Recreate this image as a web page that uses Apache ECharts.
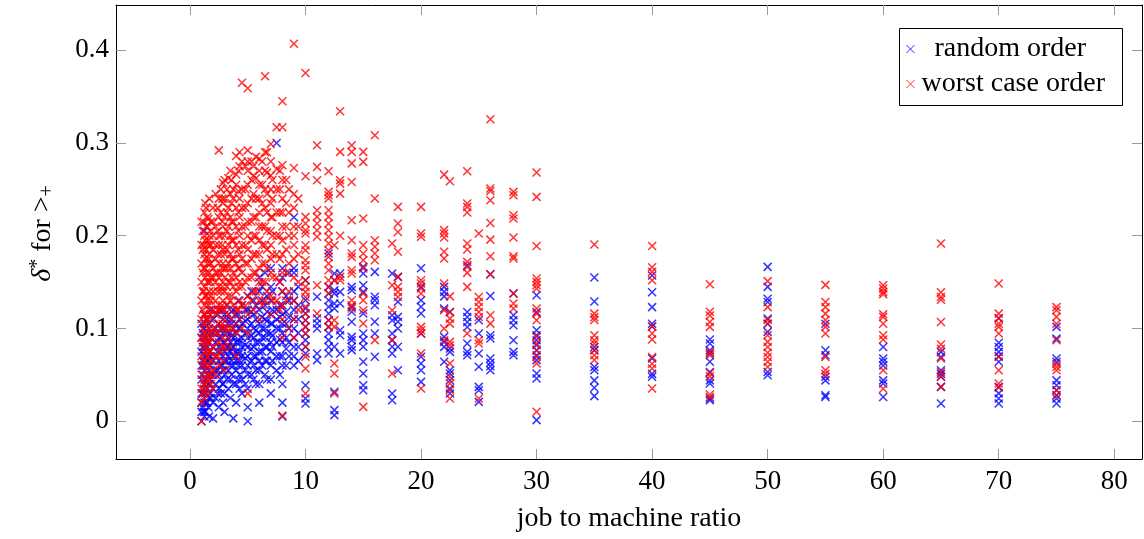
<!DOCTYPE html>
<html>
<head>
<meta charset="utf-8">
<script src="https://cdn.jsdelivr.net/npm/echarts@6/dist/echarts.min.js"></script>
<style>
  html, body { margin: 0; padding: 0; background: #fff; }
  #chart { width: 1144px; height: 539px; }
</style>
</head>
<body>
<div id="chart"></div>
<script>
// Each entry: [job to machine ratio, [delta* values measured at that ratio]]
const randomLow = [
  [1.0, [0, 0.01, 0.02, 0.03, 0.045, 0.06, 0.075, 0.09, 0.105]],
  [1.11, [0.015, 0.03, 0.05, 0.065, 0.08, 0.095]],
  [1.25, [0.005, 0.02, 0.04, 0.055, 0.07, 0.085, 0.1, 0.115, 0.205]],
  [1.33, [0.01, 0.03, 0.045, 0.06, 0.075, 0.09, 0.105]],
  [1.5, [0.02, 0.035, 0.05, 0.065, 0.08, 0.095, 0.11]],
  [1.67, [0.005, 0.025, 0.04, 0.055, 0.07, 0.085, 0.1]],
  [1.75, [0.03, 0.045, 0.06, 0.075, 0.09, 0.115]],
  [2.0, [0.003, 0.02, 0.035, 0.05, 0.065, 0.08, 0.095, 0.11]],
  [2.22, [0.025, 0.04, 0.055, 0.07, 0.085, 0.1]],
  [2.5, [0.015, 0.035, 0.05, 0.065, 0.08, 0.09, 0.105, 0.12]],
  [2.67, [0.03, 0.045, 0.06, 0.075, 0.09, 0.1]],
  [2.86, [0.02, 0.04, 0.055, 0.07, 0.085, 0.095, 0.11]],
  [3.0, [0.01, 0.03, 0.05, 0.065, 0.075, 0.085, 0.1, 0.115]],
  [3.33, [0.035, 0.055, 0.07, 0.08, 0.09, 0.105]],
  [3.5, [0.025, 0.045, 0.06, 0.075, 0.085, 0.095, 0.11]],
  [3.75, [0.003, 0.04, 0.06, 0.07, 0.08, 0.09, 0.1, 0.12]],
  [4.0, [0.02, 0.04, 0.055, 0.065, 0.075, 0.085, 0.095, 0.105, 0.115]],
  [4.29, [0.035, 0.05, 0.065, 0.075, 0.085, 0.1, 0.11]],
  [4.5, [0.03, 0.045, 0.06, 0.07, 0.08, 0.09, 0.105, 0.125]],
  [5.0, [0, 0.015, 0.035, 0.05, 0.06, 0.07, 0.08, 0.09, 0.1, 0.11, 0.12, 0.135]],
  [5.5, [0.045, 0.06, 0.07, 0.08, 0.09, 0.1, 0.115, 0.13]],
  [6.0, [0.02, 0.04, 0.055, 0.065, 0.075, 0.085, 0.095, 0.105, 0.12, 0.14, 0.155]],
  [6.5, [0.05, 0.065, 0.08, 0.09, 0.1, 0.11, 0.125, 0.16]],
  [7.0, [0.03, 0.045, 0.06, 0.075, 0.085, 0.095, 0.105, 0.115, 0.13, 0.145, 0.165]],
  [7.5, [0.055, 0.07, 0.085, 0.1, 0.11, 0.12, 0.3]],
  [8.0, [0.005, 0.02, 0.04, 0.06, 0.07, 0.085, 0.095, 0.105, 0.115, 0.125, 0.14, 0.155, 0.165]],
  [9.0, [0.06, 0.07, 0.08, 0.09, 0.1, 0.11, 0.12, 0.13, 0.14, 0.16, 0.165, 0.22]]
];

// further small ratios (fractional job counts per machine)
const randomDense = [
  [1.2, [0.01, 0.035, 0.06, 0.08, 0.1]],
  [1.4, [0.02, 0.045, 0.07, 0.09, 0.11]],
  [1.6, [0.015, 0.04, 0.065, 0.085, 0.105]],
  [1.8, [0.025, 0.05, 0.07, 0.095, 0.12]],
  [2.4, [0.03, 0.055, 0.075, 0.095, 0.115]],
  [2.8, [0.04, 0.06, 0.08, 0.1, 0.12]],
  [3.2, [0.045, 0.065, 0.08, 0.095, 0.11, 0.125]],
  [3.6, [0.05, 0.065, 0.078, 0.092, 0.105, 0.118]],
  [4.2, [0.045, 0.06, 0.072, 0.088, 0.1, 0.115, 0.13]],
  [4.8, [0.04, 0.055, 0.068, 0.082, 0.095, 0.108, 0.12]],
  [5.33, [0.05, 0.065, 0.078, 0.092, 0.105, 0.118, 0.14]],
  [5.71, [0.04, 0.055, 0.07, 0.085, 0.098, 0.11, 0.125]],
  [6.25, [0.06, 0.075, 0.09, 0.1, 0.112, 0.13, 0.145]],
  [6.67, [0.045, 0.065, 0.08, 0.095, 0.108, 0.118, 0.135]],
  [7.14, [0.065, 0.08, 0.092, 0.105, 0.12, 0.14]],
  [7.78, [0.05, 0.07, 0.088, 0.1, 0.112, 0.125, 0.15]],
  [8.33, [0.06, 0.078, 0.09, 0.105, 0.118, 0.135]],
  [8.57, [0.07, 0.085, 0.1, 0.112, 0.13, 0.16]],
  [9.38, [0.065, 0.08, 0.095, 0.11, 0.125, 0.145]]
];

const randomMid = [
  [10, [0.019, 0.0244, 0.0388, 0.073, 0.0802, 0.0874, 0.0945, 0.1017, 0.1089, 0.1161, 0.1215, 0.1305, 0.152]],
  [11, [0.0658, 0.073, 0.0999, 0.1053, 0.1107, 0.1341]],
  [12, [0.073, 0.0802, 0.0874, 0.0945, 0.1017, 0.1089, 0.1161, 0.1233, 0.1305, 0.1376, 0.1448, 0.1808]],
  [12.5, [0.0065, 0.0119, 0.0317, 0.0802, 0.1215, 0.1269, 0.1376, 0.1412, 0.152, 0.1592]],
  [13, [0.073, 0.0927, 0.0981, 0.1269, 0.1394, 0.1592]],
  [14, [0.0766, 0.0802, 0.0874, 0.0909, 0.1072, 0.118, 0.1233, 0.1412, 0.1448]],
  [15, [0.0334, 0.0388, 0.0514, 0.064, 0.0802, 0.0874, 0.0945, 0.1161, 0.1394, 0.1466, 0.1592, 0.1664]],
  [16, [0.0694, 0.0945, 0.1072, 0.1251, 0.1305, 0.1341, 0.161]],
  [17.5, [0.0226, 0.0299, 0.073, 0.0802, 0.0874, 0.0945, 0.1089, 0.1143, 0.1592]],
  [18, [0.055, 0.0802, 0.0999, 0.1072, 0.1125, 0.1287, 0.1556]],
  [20, [0.0424, 0.055, 0.0622, 0.0694, 0.0945, 0.1161, 0.1233, 0.1305, 0.1448, 0.165]],
  [22, [0.064, 0.0801, 0.0855, 0.0909, 0.1214, 0.1346, 0.1394, 0.1448]],
  [22.5, [0.0298, 0.0352, 0.0442, 0.0514, 0.055, 0.0747, 0.0783, 0.1178]],
  [24, [0.0711, 0.0747, 0.0837, 0.1016, 0.107, 0.1124, 0.1178, 0.1682]],
  [25, [0.0208, 0.0334, 0.037, 0.0586, 0.0729, 0.0945, 0.1088]],
  [26, [0.055, 0.0593, 0.0629, 0.0676, 0.0891, 0.0927, 0.135, 0.1585]],
  [28, [0.0711, 0.0747, 0.0873, 0.1034, 0.1088, 0.1142, 0.1376]],
  [30, [0.0011, 0.046, 0.0514, 0.0658, 0.0711, 0.0765, 0.0819, 0.0873, 0.0927, 0.0981, 0.1178, 0.1358]]
];

const randomHigh = [
  [35, [0.027, 0.036, 0.044, 0.055, 0.0585, 0.0765, 0.08, 0.129, 0.155]],
  [40, [0.048, 0.051, 0.0675, 0.102, 0.105, 0.123, 0.139, 0.157]],
  [45, [0.0226, 0.0245, 0.0406, 0.044, 0.053, 0.064, 0.073, 0.0765, 0.0838, 0.088]],
  [50, [0.0496, 0.053, 0.0963, 0.105, 0.1107, 0.1286, 0.132, 0.1448, 0.1664]],
  [55, [0.026, 0.028, 0.044, 0.048, 0.071, 0.0765, 0.105]],
  [60, [0.026, 0.0406, 0.044, 0.06, 0.064, 0.0675, 0.08]],
  [65, [0.019, 0.037, 0.048, 0.051, 0.055, 0.0693, 0.0747]],
  [70, [0.019, 0.0245, 0.03, 0.037, 0.064, 0.07, 0.0747, 0.08, 0.0845, 0.111]],
  [75, [0.019, 0.0245, 0.028, 0.0334, 0.0388, 0.044, 0.064, 0.0675, 0.089, 0.1017]]
];

const worstLow = [
  [1.0, [0, 0.02, 0.035, 0.05, 0.07, 0.09, 0.11, 0.13, 0.15, 0.17, 0.19, 0.215]],
  [1.11, [0.03, 0.06, 0.085, 0.1, 0.12, 0.14, 0.16, 0.185, 0.205]],
  [1.25, [0.025, 0.045, 0.065, 0.08, 0.105, 0.125, 0.145, 0.165, 0.18, 0.2, 0.225]],
  [1.33, [0.04, 0.075, 0.095, 0.115, 0.135, 0.155, 0.175, 0.195, 0.235]],
  [1.5, [0.03, 0.05, 0.07, 0.09, 0.11, 0.13, 0.15, 0.17, 0.19, 0.21, 0.22]],
  [1.67, [0.045, 0.06, 0.085, 0.1, 0.12, 0.14, 0.16, 0.18, 0.2, 0.24]],
  [1.75, [0.05, 0.075, 0.095, 0.115, 0.135, 0.155, 0.17, 0.19, 0.205]],
  [2.0, [0.035, 0.055, 0.08, 0.1, 0.12, 0.14, 0.155, 0.165, 0.185, 0.2, 0.215, 0.23]],
  [2.22, [0.05, 0.07, 0.095, 0.115, 0.13, 0.15, 0.16, 0.175, 0.19, 0.21, 0.245]],
  [2.5, [0.06, 0.085, 0.105, 0.125, 0.145, 0.155, 0.17, 0.19, 0.2, 0.22, 0.24, 0.292]],
  [2.67, [0.075, 0.1, 0.12, 0.14, 0.16, 0.18, 0.2, 0.225, 0.25]],
  [2.86, [0.065, 0.09, 0.11, 0.13, 0.15, 0.17, 0.185, 0.21, 0.235, 0.257]],
  [3.0, [0.055, 0.08, 0.1, 0.12, 0.14, 0.155, 0.165, 0.18, 0.2, 0.22, 0.24, 0.26]],
  [3.33, [0.09, 0.115, 0.135, 0.15, 0.17, 0.19, 0.21, 0.23, 0.262]],
  [3.5, [0.08, 0.1, 0.13, 0.15, 0.165, 0.18, 0.2, 0.22, 0.245, 0.27]],
  [3.75, [0.1, 0.125, 0.145, 0.16, 0.175, 0.195, 0.215, 0.24, 0.25]],
  [4.0, [0.07, 0.095, 0.12, 0.14, 0.155, 0.17, 0.19, 0.21, 0.23, 0.255, 0.266, 0.286]],
  [4.29, [0.11, 0.13, 0.15, 0.165, 0.18, 0.2, 0.22, 0.24, 0.275, 0.29]],
  [4.5, [0.1, 0.125, 0.145, 0.16, 0.175, 0.19, 0.21, 0.23, 0.25, 0.28, 0.365]],
  [5.0, [0.03, 0.095, 0.115, 0.135, 0.155, 0.17, 0.185, 0.2, 0.215, 0.235, 0.255, 0.27, 0.28, 0.292, 0.359]],
  [5.5, [0.12, 0.14, 0.16, 0.18, 0.2, 0.22, 0.245, 0.265, 0.275]],
  [6.0, [0.11, 0.13, 0.15, 0.165, 0.18, 0.195, 0.21, 0.225, 0.24, 0.255, 0.27, 0.283]],
  [6.5, [0.13, 0.15, 0.17, 0.19, 0.21, 0.23, 0.25, 0.27, 0.29, 0.372]],
  [7.0, [0.115, 0.135, 0.16, 0.175, 0.19, 0.205, 0.22, 0.235, 0.25, 0.265, 0.28, 0.299]],
  [7.5, [0.13, 0.155, 0.18, 0.2, 0.225, 0.25, 0.272, 0.317]],
  [8.0, [0.006, 0.09, 0.11, 0.125, 0.14, 0.16, 0.18, 0.195, 0.21, 0.225, 0.24, 0.26, 0.276, 0.317, 0.345]],
  [9.0, [0.09, 0.11, 0.13, 0.155, 0.175, 0.19, 0.2, 0.21, 0.23, 0.245, 0.273, 0.407]]
];

const worstDense = [
  [1.2, [0.04, 0.065, 0.09, 0.115, 0.14, 0.165, 0.19, 0.215]],
  [1.4, [0.035, 0.06, 0.085, 0.11, 0.135, 0.16, 0.185, 0.21, 0.23]],
  [1.6, [0.05, 0.075, 0.1, 0.125, 0.15, 0.175, 0.195, 0.218]],
  [1.8, [0.04, 0.065, 0.09, 0.11, 0.13, 0.15, 0.17, 0.19, 0.215]],
  [2.4, [0.07, 0.095, 0.12, 0.14, 0.16, 0.18, 0.205, 0.23]],
  [2.8, [0.08, 0.105, 0.125, 0.145, 0.165, 0.19, 0.215, 0.24]],
  [3.2, [0.1, 0.125, 0.145, 0.165, 0.185, 0.205, 0.225, 0.25]],
  [3.6, [0.11, 0.135, 0.155, 0.175, 0.195, 0.215, 0.235, 0.26]],
  [4.2, [0.12, 0.145, 0.165, 0.185, 0.205, 0.225, 0.248, 0.27]],
  [4.8, [0.125, 0.15, 0.17, 0.19, 0.21, 0.23, 0.25, 0.275]],
  [5.33, [0.13, 0.155, 0.175, 0.195, 0.215, 0.24, 0.26, 0.28]],
  [5.71, [0.14, 0.16, 0.18, 0.2, 0.22, 0.24, 0.262, 0.285]],
  [6.25, [0.125, 0.15, 0.17, 0.19, 0.21, 0.235, 0.255, 0.28]],
  [6.67, [0.14, 0.165, 0.185, 0.205, 0.225, 0.245, 0.268, 0.29]],
  [7.14, [0.13, 0.155, 0.18, 0.2, 0.22, 0.24, 0.26]],
  [7.78, [0.12, 0.15, 0.175, 0.2, 0.225, 0.25, 0.27]],
  [8.33, [0.13, 0.16, 0.185, 0.21, 0.235, 0.26]],
  [8.57, [0.1, 0.14, 0.17, 0.2, 0.225, 0.25]],
  [9.38, [0.12, 0.15, 0.18, 0.21, 0.24]]
];

const worstMid = [
  [10, [0.0299, 0.0568, 0.0694, 0.0802, 0.0945, 0.1017, 0.1089, 0.1161, 0.1233, 0.134, 0.1394, 0.1448, 0.152, 0.1628, 0.1682, 0.1736, 0.1844, 0.1898, 0.2023, 0.2059, 0.2131, 0.2203, 0.2641, 0.3755]],
  [11, [0.1161, 0.1466, 0.1988, 0.2059, 0.2131, 0.2203, 0.2275, 0.2598, 0.2742, 0.2976]],
  [12, [0.1017, 0.1089, 0.1376, 0.1448, 0.152, 0.1628, 0.17, 0.1772, 0.1844, 0.1916, 0.1988, 0.2059, 0.2131, 0.2203, 0.2275, 0.2401, 0.2437, 0.2473, 0.2695]],
  [12.5, [0.0299, 0.0514, 0.0622, 0.1017, 0.1089, 0.152, 0.1898]],
  [13, [0.152, 0.1556, 0.1999, 0.2454, 0.2562, 0.2598, 0.2904, 0.3342]],
  [14, [0.1215, 0.1251, 0.1305, 0.1592, 0.1628, 0.1772, 0.1808, 0.1952, 0.2167, 0.258, 0.278, 0.2904, 0.2976]],
  [15, [0.0154, 0.1053, 0.1197, 0.1305, 0.1376, 0.1646, 0.1736, 0.1808, 0.1898, 0.2185, 0.2796, 0.2904]],
  [16, [0.0874, 0.1736, 0.1808, 0.188, 0.1952, 0.2401, 0.3083]],
  [17.5, [0.0514, 0.0874, 0.1197, 0.1466, 0.1916]],
  [18, [0.134, 0.1394, 0.1448, 0.1556, 0.1826, 0.2041, 0.2131, 0.2311]],
  [20, [0.0352, 0.073, 0.0945, 0.0981, 0.1017, 0.1376, 0.143, 0.1484, 0.152, 0.1988, 0.2023, 0.2311]],
  [22, [0.0873, 0.0999, 0.1196, 0.1484, 0.1754, 0.1826, 0.198, 0.2023, 0.206, 0.2659]],
  [22.5, [0.0244, 0.0334, 0.0406, 0.0478, 0.0622, 0.0819, 0.0855, 0.1052, 0.1106, 0.1178, 0.1346, 0.2588]],
  [24, [0.0945, 0.1448, 0.1599, 0.1664, 0.1718, 0.1852, 0.1916, 0.225, 0.2311, 0.2347, 0.2695]],
  [25, [0.0244, 0.0837, 0.0873, 0.1124, 0.1178, 0.1232, 0.1286, 0.1339, 0.2023]],
  [26, [0.1052, 0.1142, 0.1585, 0.1779, 0.1958, 0.2138, 0.2383, 0.2483, 0.2509, 0.3255]],
  [28, [0.1214, 0.1268, 0.1376, 0.1754, 0.1779, 0.198, 0.2185, 0.2221, 0.2437, 0.2473]],
  [30, [0.0101, 0.0622, 0.0694, 0.0765, 0.0837, 0.0909, 0.1088, 0.116, 0.1214, 0.143, 0.1466, 0.1502, 0.1538, 0.189, 0.2419, 0.2681]]
];

const worstHigh = [
  [35, [0.066, 0.071, 0.0765, 0.0838, 0.0873, 0.0927, 0.109, 0.112, 0.116, 0.1905]],
  [40, [0.0352, 0.0568, 0.062, 0.0693, 0.088, 0.0945, 0.102, 0.152, 0.161, 0.166, 0.189]],
  [45, [0.026, 0.0287, 0.0485, 0.052, 0.071, 0.0747, 0.1017, 0.107, 0.114, 0.118, 0.1477]],
  [50, [0.0585, 0.064, 0.0693, 0.0737, 0.08, 0.0855, 0.0927, 0.105, 0.109, 0.123, 0.151]],
  [55, [0.051, 0.055, 0.0693, 0.0945, 0.1017, 0.109, 0.116, 0.123, 0.1286, 0.147]],
  [60, [0.035, 0.055, 0.088, 0.0927, 0.105, 0.1125, 0.1154, 0.137, 0.1394, 0.143, 0.1466]],
  [65, [0.037, 0.048, 0.053, 0.0675, 0.078, 0.0827, 0.107, 0.131, 0.134, 0.139, 0.1916]],
  [70, [0.0363, 0.0406, 0.055, 0.0693, 0.0945, 0.1017, 0.105, 0.111, 0.116, 0.1484]],
  [75, [0.028, 0.0334, 0.055, 0.0585, 0.062, 0.0873, 0.105, 0.1125, 0.1197, 0.123]]
];

const xTicks = [0, 10, 20, 30, 40, 50, 60, 70, 80];
const yTicks = [0, 0.1, 0.2, 0.3, 0.4];
const seriesNames = ['random order', 'worst case order'];

const FONT = '"Liberation Serif", "DejaVu Serif", serif';
const CROSS = 'path://M0,0L10,10M10,0L0,10';

const toPoints = cols => cols.flatMap(([x, ys]) => ys.map(y => [x, y]));
const randomPoints = toPoints([...randomLow, ...randomDense, ...randomMid, ...randomHigh]);
const worstPoints = toPoints([...worstLow, ...worstDense, ...worstMid, ...worstHigh]);

const X_MIN = -6.4, X_MAX = 82.4;
const Y_MIN = -0.0408, Y_MAX = 0.4488;

const frameLine = { show: true, onZero: false, lineStyle: { color: '#000', width: 1 } };
const tickStyle = { color: '#9a9a9a', width: 1 };

function xAxisDef(pos, labelled) {
  return {
    type: 'value', position: pos, min: X_MIN, max: X_MAX,
    axisLine: frameLine,
    axisTick: { show: true, inside: true, length: 10, customValues: xTicks, lineStyle: tickStyle },
    axisLabel: { show: labelled, customValues: xTicks, margin: 9, color: '#000', fontFamily: FONT, fontSize: 27 },
    splitLine: { show: false },
    name: labelled ? 'job to machine ratio' : '',
    nameLocation: 'middle', nameGap: 46,
    nameTextStyle: { color: '#000', fontFamily: FONT, fontSize: 28 }
  };
}

function yAxisDef(pos, labelled) {
  return {
    type: 'value', position: pos, min: Y_MIN, max: Y_MAX,
    axisLine: frameLine,
    axisTick: { show: true, inside: true, length: 10, customValues: yTicks, lineStyle: tickStyle },
    axisLabel: { show: labelled, customValues: yTicks, margin: 7, color: '#000', fontFamily: FONT, fontSize: 27 },
    splitLine: { show: false },
    name: labelled ? '{d|δ}{s|*} for >{b|+}' : '',
    nameLocation: 'middle', nameGap: 58, nameRotate: 90,
    nameTextStyle: {
      color: '#000', fontFamily: FONT, fontSize: 28, lineHeight: 30,
      padding: [0, 3, 0, 0],
      rich: {
        d: { fontFamily: FONT, fontSize: 28, fontStyle: 'italic', color: '#000', lineHeight: 30 },
        s: { fontFamily: FONT, fontSize: 20, color: '#000', lineHeight: 20, verticalAlign: 'top' },
        b: { fontFamily: FONT, fontSize: 20, color: '#000', lineHeight: 20, verticalAlign: 'bottom' }
      }
    }
  };
}

function scatter(name, data, color) {
  return {
    type: 'scatter', name, data,
    symbol: CROSS, symbolSize: 8,
    itemStyle: { color: 'transparent', borderColor: color, borderWidth: 1.5 },
    emphasis: { disabled: true },
    animation: false
  };
}

function legendDef(name, top, textPad) {
  return {
    data: [name], left: 906, top, padding: 0,
    itemWidth: 8, itemHeight: 8, itemGap: 0,
    selectedMode: false,
    itemStyle: { borderWidth: 1 },
    textStyle: { color: '#000', fontFamily: FONT, fontSize: 28, lineHeight: 30, padding: [0, 0, 0, textPad] }
  };
}

const chart = echarts.init(document.getElementById('chart'), null, { renderer: 'canvas' });
chart.setOption({
  backgroundColor: '#fff',
  animation: false,
  grid: { left: 116, right: 2, top: 5, bottom: 80, containLabel: false },
  xAxis: [xAxisDef('bottom', true), xAxisDef('top', false)],
  yAxis: [yAxisDef('left', true), yAxisDef('right', false)],
  legend: [legendDef(seriesNames[0], 34, 15), legendDef(seriesNames[1], 69, 2)],
  graphic: [{
    type: 'rect', left: 899, top: 28, z: 3,
    shape: { width: 223, height: 77 },
    style: { fill: '#fff', stroke: '#000', lineWidth: 1 }
  }],
  series: [
    scatter(seriesNames[0], randomPoints, '#0000ff'),
    scatter(seriesNames[1], worstPoints, '#ff0000')
  ]
});
</script>
</body>
</html>
